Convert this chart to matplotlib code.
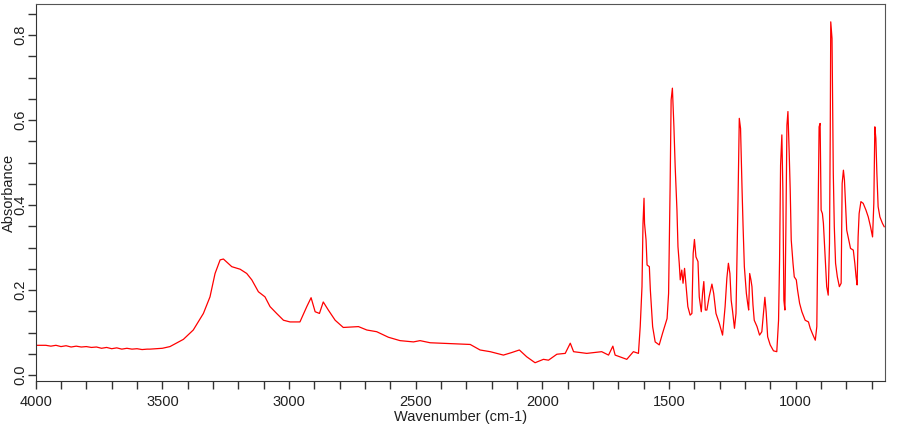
import matplotlib
matplotlib.use('Agg')
import matplotlib.pyplot as plt
from matplotlib.ticker import MultipleLocator

# IR spectrum, values
wavenumber = [
    4000, 3960, 3940, 3920, 3900, 3880, 3860, 3840, 3820, 3800, 3780, 3760,
    3740, 3720, 3700, 3680, 3660, 3640, 3620, 3600, 3580, 3560, 3549, 3500,
    3470, 3417, 3378, 3338, 3312, 3292, 3272, 3259, 3226, 3193, 3167, 3147,
    3121, 3095, 3075, 3049, 3022, 2996, 2957, 2930, 2913, 2897, 2880, 2865,
    2845, 2818, 2786, 2726, 2693, 2654, 2608, 2562, 2509, 2483, 2443, 2364,
    2285, 2246, 2206, 2154, 2121, 2091, 2062, 2029, 1996, 1976, 1943, 1910,
    1890, 1877, 1825, 1766, 1739, 1722, 1713, 1667, 1641, 1621,
    1614, 1607, 1603, 1599, 1597, 1591, 1587, 1578, 1574, 1565, 1555, 1539,
    1526, 1508, 1502, 1496, 1492, 1487, 1481, 1476, 1469, 1465, 1460, 1456,
    1450, 1445, 1439, 1434, 1426, 1417, 1410, 1405, 1400, 1394, 1386, 1381,
    1373, 1368, 1363, 1357, 1351, 1342, 1331, 1324, 1315, 1302, 1289, 1279,
    1272, 1266, 1260, 1255, 1250, 1242, 1236, 1228, 1223, 1218,
    1212, 1208, 1203, 1199, 1195, 1190, 1186, 1182, 1177, 1173, 1169, 1164,
    1153, 1143, 1134, 1127, 1122, 1117, 1111, 1101, 1088, 1075, 1068, 1064,
    1060, 1055, 1051, 1047, 1043, 1039, 1035, 1031, 1026, 1022, 1018, 1011,
    1006, 998, 993, 985, 976, 963, 950, 943, 932, 923, 917, 912, 908, 904,
    900, 895, 891, 887, 882, 878, 872, 867, 864, 862, 857, 852, 848, 843,
    836, 828, 821, 817, 812, 808, 803, 799, 791, 784, 773, 767, 762, 758,
    754, 750, 743, 734, 723, 714, 705, 697, 692, 688, 684, 680, 675, 668,
    658, 651,
]
absorbance = [
    0.070, 0.070, 0.068, 0.070, 0.067, 0.069, 0.066, 0.068, 0.066, 0.067, 0.065, 0.066,
    0.063, 0.065, 0.062, 0.064, 0.061, 0.063, 0.061, 0.062, 0.060, 0.061, 0.061, 0.063,
    0.067, 0.084, 0.106, 0.145, 0.184, 0.239, 0.271, 0.273, 0.255, 0.249, 0.239, 0.224,
    0.196, 0.184, 0.161, 0.145, 0.129, 0.125, 0.125, 0.161, 0.182, 0.149, 0.145, 0.172,
    0.153, 0.129, 0.112, 0.114, 0.106, 0.102, 0.089, 0.081, 0.078, 0.081, 0.076, 0.074,
    0.072, 0.059, 0.055, 0.047, 0.053, 0.059, 0.043, 0.029, 0.037, 0.035, 0.049, 0.051,
    0.075, 0.055, 0.051, 0.055, 0.047, 0.068, 0.047, 0.037, 0.055, 0.051,
    0.114, 0.208, 0.357, 0.416, 0.357, 0.318, 0.259, 0.255, 0.200, 0.114, 0.078, 0.071,
    0.098, 0.133, 0.192, 0.443, 0.647, 0.675, 0.584, 0.490, 0.388, 0.302, 0.263, 0.224,
    0.247, 0.216, 0.251, 0.216, 0.161, 0.141, 0.145, 0.286, 0.319, 0.278, 0.267, 0.184,
    0.149, 0.192, 0.220, 0.153, 0.153, 0.184, 0.214, 0.192, 0.145, 0.122, 0.094, 0.161,
    0.228, 0.263, 0.239, 0.176, 0.153, 0.110, 0.145, 0.412, 0.604, 0.580,
    0.435, 0.349, 0.255, 0.224, 0.192, 0.169, 0.153, 0.239, 0.224, 0.208, 0.165, 0.129,
    0.114, 0.094, 0.102, 0.149, 0.183, 0.149, 0.090, 0.071, 0.057, 0.055, 0.129, 0.271,
    0.494, 0.565, 0.435, 0.176, 0.153, 0.349, 0.588, 0.620, 0.522, 0.435, 0.318, 0.263,
    0.231, 0.224, 0.200, 0.169, 0.149, 0.129, 0.125, 0.110, 0.094, 0.082, 0.114, 0.365, 0.584, 0.592,
    0.388, 0.380, 0.357, 0.310, 0.255, 0.208, 0.188, 0.310, 0.569, 0.831, 0.792, 0.475, 0.349, 0.263,
    0.231, 0.208, 0.216, 0.451, 0.482, 0.459, 0.396, 0.341, 0.318, 0.298, 0.294, 0.263, 0.231, 0.212,
    0.325, 0.380, 0.408, 0.404, 0.388, 0.372, 0.349, 0.325, 0.404, 0.584, 0.557, 0.475, 0.396, 0.372,
    0.357, 0.349,
]

plt.rcParams['font.family'] = ['Liberation Sans', 'DejaVu Sans']

fig = plt.figure(figsize=(9.1, 4.25), dpi=100)
ax = fig.add_axes([0.0392, 0.1035, 0.9333, 0.8871])

ax.plot(wavenumber, absorbance, color='red', lw=0.9)

ax.set_xlim(4000, 648)
ax.set_ylim(-0.014, 0.873)

ax.xaxis.set_major_locator(MultipleLocator(500))
ax.xaxis.set_minor_locator(MultipleLocator(100))
ax.yaxis.set_major_locator(MultipleLocator(0.2))
ax.yaxis.set_minor_locator(MultipleLocator(0.05))
ax.yaxis.set_major_formatter(matplotlib.ticker.FormatStrFormatter('%.1f'))

ax.tick_params(which='both', direction='out', length=6, width=1, color='#333333',
               labelsize=10.5, labelcolor='#202020')
ax.tick_params(axis='x', pad=4)
ax.tick_params(axis='y', pad=0)
for lab in ax.get_yticklabels():
    lab.set_rotation(90)
    lab.set_va('center')

for side in ['left', 'bottom']:
    ax.spines[side].set_color('#333333')
for side in ['top', 'right']:
    ax.spines[side].set_color('#555555')

ax.set_xlabel('Wavenumber (cm-1)', fontsize=10.5, color='#202020', labelpad=1)
ax.set_ylabel('Absorbance', fontsize=10.5, color='#202020')
# label sits over the tick labels, as in the reference
ax.yaxis.set_label_coords(-0.0235, 0.5)

fig.savefig('out.png', dpi=100)
